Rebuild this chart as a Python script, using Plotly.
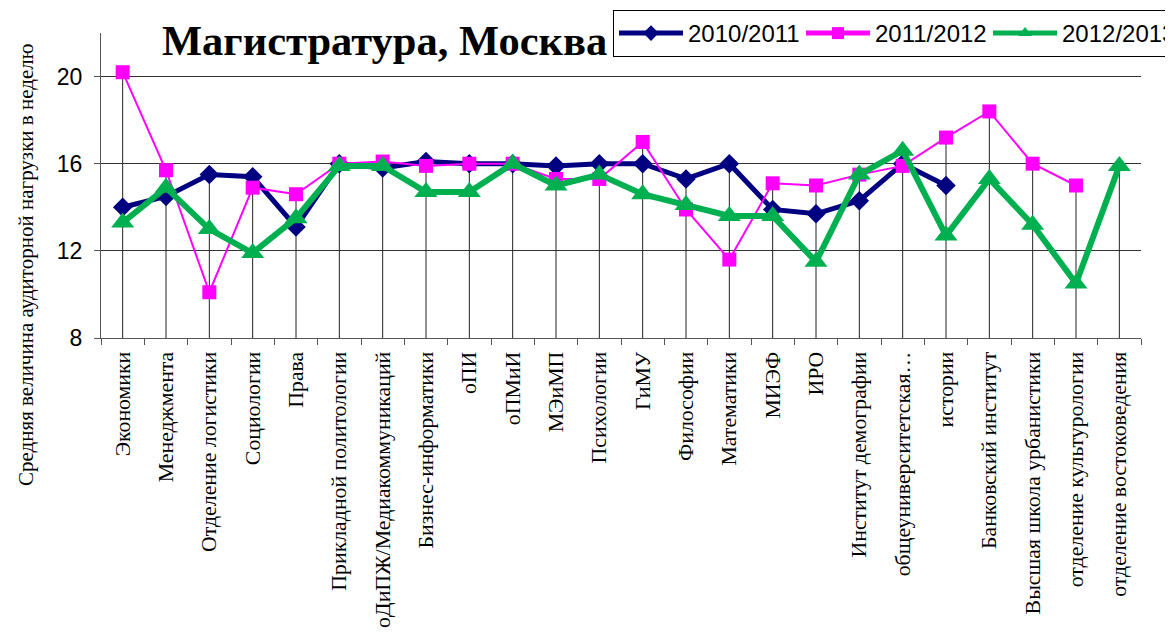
import plotly.graph_objects as go

categories = ["Экономики", "Менеджмента", "Отделение логистики", "Социологии", "Права",
              "Прикладной политологии", "оДиПЖ/Медиакоммуникаций", "Бизнес-информатики",
              "оПИ", "оПМиИ", "МЭиМП", "Психологии", "ГиМУ", "Философии", "Математики",
              "МИЭФ", "ИРО", "Институт демографии", "общеуниверситетская…", "истории",
              "Банковский институт", "Высшая школа урбанистики", "отделение культурологии",
              "отделение востоковедения"]

s2010 = [14.0, 14.5, 15.5, 15.4, 13.1, 16.0, 15.8, 16.1, 16.0, 16.0, 15.9, 16.0,
         16.0, 15.3, 16.0, 13.9, 13.7, 14.3, 16.0, 15.0, None, None, None, None]
s2011 = [20.2, 15.7, 10.1, 14.9, 14.6, 16.0, 16.1, 15.9, 16.0, 16.0, 15.3, 15.3,
         17.0, 13.9, 11.6, 15.1, 15.0, 15.5, 15.9, 17.2, 18.4, 16.0, 15.0, None]
s2012 = [13.3, 14.9, 13.0, 11.9, 13.5, 15.9, 15.9, 14.7, 14.7, 16.0, 15.0, 15.5,
         14.6, 14.1, 13.6, 13.6, 11.5, 15.5, 16.6, 12.7, 15.3, 13.2, 10.5, 15.9]

series_names = ["2010/2011", "2011/2012", "2012/2013"]
y_ticks = [8, 12, 16, 20]
y_min, y_max = 8, 22

title_text = "Магистратура, Москва"
y_title = "Средняя величина аудиторной нагрузки в неделю"

fig = go.Figure()

# drop lines from axis to the highest point of each category
dx, dy = [], []
for c, a, b, g in zip(categories, s2010, s2011, s2012):
    vals = [v for v in (a, b, g) if v is not None]
    dx += [c, c, None]
    dy += [y_min, max(vals), None]
fig.add_trace(go.Scatter(x=dx, y=dy, mode="lines", line=dict(color="#222222", width=1),
                         showlegend=False, hoverinfo="skip"))

fig.add_trace(go.Scatter(x=categories, y=s2010, name=series_names[0], mode="lines+markers",
                         line=dict(color="#000080", width=5),
                         marker=dict(symbol="diamond", size=15, color="#000080")))
fig.add_trace(go.Scatter(x=categories, y=s2011, name=series_names[1], mode="lines+markers",
                         line=dict(color="#FF00FF", width=2),
                         marker=dict(symbol="square", size=14, color="#FF00FF")))
fig.add_trace(go.Scatter(x=categories, y=s2012, name=series_names[2], mode="lines+markers",
                         line=dict(color="#00B050", width=6),
                         marker=dict(symbol="triangle-up", size=20, color="#00B050")))

OFF = 8  # page body margin
W, H = 1165, 625
L, R, T, B = 93, 32, 25, 295
pw, ph = W - L - R, H - T - B

def px_x(x):
    return (x - OFF - L) / pw

def px_y(y):
    return (H - B - (y - OFF)) / ph

fig.update_layout(
    width=W, height=H,
    margin=dict(l=L, r=R, t=T, b=B, autoexpand=False),
    paper_bgcolor="white", plot_bgcolor="white",
    showlegend=True,
    legend=dict(orientation="h", x=px_x(613), y=px_y(10), xanchor="left", yanchor="top",
                bordercolor="black", borderwidth=1, bgcolor="white",
                font=dict(family="Liberation Sans", size=24, color="black"),
                entrywidth=108, entrywidthmode="pixels", itemwidth=64,
                itemsizing="constant"),
    xaxis=dict(type="category", categoryorder="array", categoryarray=categories,
               range=[-0.5, len(categories) - 0.5],
               showgrid=False, showline=True, linecolor="#555555", linewidth=1,
               ticks="outside", tickson="boundaries", ticklen=6, tickcolor="#555555",
               tickangle=-90, ticklabelstandoff=4,
               tickfont=dict(family="Liberation Serif", size=21.8, color="black"),
               zeroline=False),
    yaxis=dict(range=[y_min, y_max], tickvals=y_ticks, showgrid=True, gridcolor="#333333",
               gridwidth=1, showline=True, linecolor="#555555", linewidth=1,
               ticks="outside", ticklen=6, tickcolor="#555555", ticklabelstandoff=7,
               tickfont=dict(family="Liberation Sans", size=23, color="black"),
               zeroline=False),
    annotations=[
        dict(text="<b>" + title_text + "</b>", xref="paper", yref="paper",
             x=px_x(160), y=px_y(40), xanchor="left", yanchor="middle", showarrow=False,
             font=dict(family="Liberation Serif", size=42.5, color="black")),
        dict(text=y_title, xref="paper", yref="paper", textangle=-90,
             x=px_x(26), y=px_y(265), xanchor="center", yanchor="middle", showarrow=False,
             font=dict(family="Liberation Serif", size=21, color="black")),
    ],
)

fig.write_html("out.html")
